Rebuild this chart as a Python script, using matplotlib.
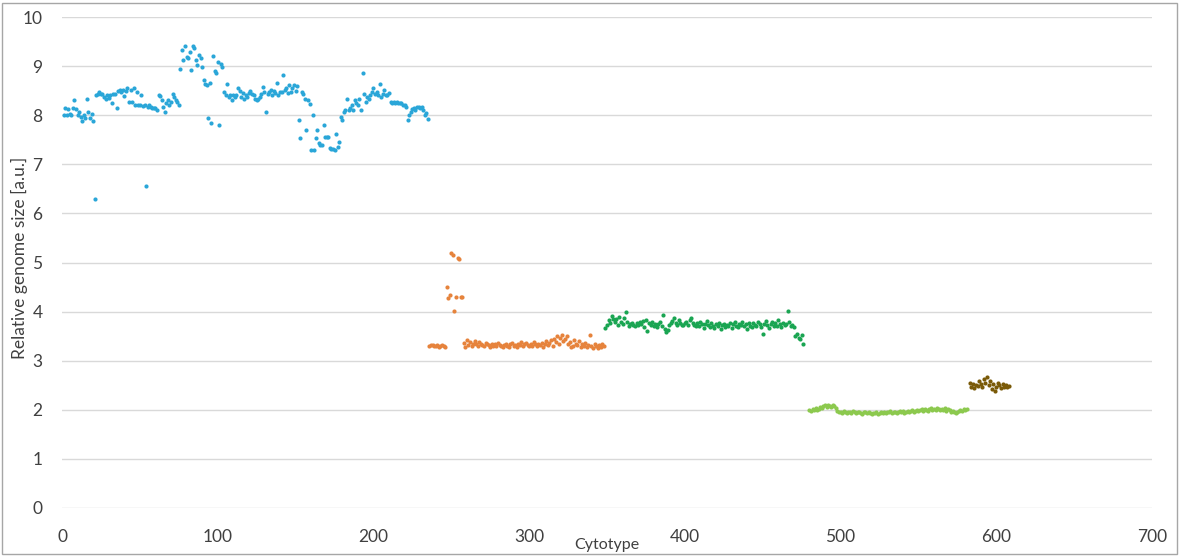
import numpy as np
import matplotlib
matplotlib.use("Agg")
import matplotlib.pyplot as plt
from matplotlib.patches import Rectangle

# relative genome size per cytotype, one list per group (cytotype number = start + position)
blue_start = 1
blue_vals = [
    8.00, 8.14, 8.00, 8.13, 8.02, 8.00, 8.15, 8.30, 8.13, 8.00,
    8.06, 7.97, 7.88, 8.00, 7.95, 8.32, 8.06, 7.94, 8.02, 7.88,
    6.30, 8.41, 8.44, 8.48, 8.43, 8.44, 8.37, 8.34, 8.41, 8.35,
    8.41, 8.24, 8.43, 8.44, 8.14, 8.49, 8.51, 8.48, 8.51, 8.39,
    8.49, 8.56, 8.27, 8.51, 8.26, 8.55, 8.20, 8.48, 8.21, 8.20,
    8.41, 8.19, 8.20, 6.55, 8.17, 8.20, 8.17, 8.14, 8.14, 8.15,
    8.10, 8.41, 8.39, 8.31, 8.17, 8.07, 8.24, 8.31, 8.20, 8.27,
    8.43, 8.37, 8.31, 8.27, 8.20, 8.95, 9.33, 9.12, 9.41, 9.19,
    9.16, 9.29, 8.92, 9.41, 9.36, 9.12, 9.02, 9.22, 9.17, 8.99,
    8.72, 8.63, 8.61, 7.94, 8.65, 7.84, 9.21, 8.90, 8.85, 9.08,
    7.80, 9.04, 8.99, 8.47, 8.41, 8.63, 8.37, 8.41, 8.31, 8.41,
    8.37, 8.42, 8.55, 8.49, 8.37, 8.45, 8.34, 8.41, 8.37, 8.45,
    8.49, 8.44, 8.41, 8.34, 8.31, 8.32, 8.37, 8.44, 8.58, 8.48,
    8.07, 8.43, 8.48, 8.51, 8.41, 8.49, 8.46, 8.65, 8.41, 8.48,
    8.48, 8.82, 8.51, 8.55, 8.45, 8.61, 8.48, 8.56, 8.61, 8.50,
    8.60, 7.90, 7.53, 8.48, 8.43, 8.34, 7.70, 8.30, 8.23, 7.29,
    8.00, 7.30, 7.53, 7.70, 7.43, 7.40, 7.40, 7.80, 7.56, 7.55,
    7.56, 7.34, 7.32, 7.32, 7.29, 7.61, 7.36, 7.46, 7.96, 7.90,
    8.07, 8.10, 8.34, 8.10, 8.14, 8.21, 8.10, 8.30, 8.24, 8.21,
    8.34, 8.10, 8.86, 8.44, 8.27, 8.37, 8.34, 8.41, 8.48, 8.55,
    8.43, 8.47, 8.41, 8.64, 8.37, 8.44, 8.51, 8.41, 8.41, 8.45,
    8.27, 8.24, 8.27, 8.25, 8.27, 8.24, 8.25, 8.25, 8.21, 8.21,
    8.17, 7.90, 8.00, 8.07, 8.12, 8.14, 8.10, 8.17, 8.17, 8.15,
    8.17, 8.10, 8.00, 8.05, 7.93,
]

orange_start = 236
orange_vals = [
    3.30, 3.32, 3.31, 3.29, 3.30, 3.31, 3.28, 3.29, 3.31, 3.29, 3.28,
    4.51, 4.27, 4.33, 5.19, 5.16, 4.01, 4.30, 5.10, 5.08, 4.30, 4.29,
    3.36, 3.28, 3.42, 3.32, 3.38, 3.30, 3.35, 3.40, 3.33, 3.30,
    3.38, 3.35, 3.32, 3.29, 3.36, 3.33, 3.31, 3.28, 3.34, 3.30,
    3.33, 3.29, 3.37, 3.32, 3.30, 3.28, 3.31, 3.35, 3.30, 3.27,
    3.33, 3.36, 3.30, 3.32, 3.28, 3.35, 3.31, 3.38, 3.29, 3.33,
    3.36, 3.31, 3.30, 3.34, 3.29, 3.38, 3.33, 3.30, 3.35, 3.31,
    3.37, 3.28, 3.33, 3.40, 3.32, 3.36, 3.42, 3.30, 3.45, 3.38,
    3.50, 3.35, 3.47, 3.52, 3.40, 3.45, 3.50, 3.33, 3.38, 3.28,
    3.30, 3.42, 3.35, 3.32, 3.40, 3.27, 3.34, 3.30, 3.36, 3.28,
    3.32, 3.52, 3.30, 3.26, 3.33, 3.29, 3.25, 3.31, 3.28, 3.34, 3.30,
]

green_start = 349
green_vals = [
    3.66, 3.73, 3.83, 3.76, 3.91, 3.84, 3.79, 3.85, 3.72, 3.88,
    3.79, 3.74, 3.86, 4.00, 3.78, 3.71, 3.74, 3.76, 3.73, 3.70,
    3.77, 3.72, 3.79, 3.74, 3.80, 3.68, 3.83, 3.61, 3.76, 3.72,
    3.79, 3.70, 3.75, 3.68, 3.74, 3.79, 3.70, 3.93, 3.65, 3.59,
    3.62, 3.72, 3.76, 3.80, 3.86, 3.76, 3.73, 3.82, 3.76, 3.72,
    3.73, 3.76, 3.79, 3.73, 3.82, 3.86, 3.77, 3.73, 3.70, 3.76,
    3.70, 3.78, 3.74, 3.67, 3.75, 3.80, 3.72, 3.69, 3.76, 3.71,
    3.67, 3.74, 3.70, 3.77, 3.64, 3.72, 3.75, 3.68, 3.73, 3.70,
    3.76, 3.66, 3.74, 3.78, 3.71, 3.68, 3.75, 3.72, 3.79, 3.70,
    3.74, 3.64, 3.77, 3.71, 3.68, 3.76, 3.73, 3.70, 3.78, 3.74,
    3.69, 3.55, 3.75, 3.80, 3.72, 3.67, 3.74, 3.78, 3.71, 3.76,
    3.70, 3.82, 3.74, 3.68, 3.77, 3.72, 3.75, 4.02, 3.78, 3.70,
    3.73, 3.68, 3.50, 3.54, 3.47, 3.45, 3.52, 3.35,
]

lime_start = 480
lime_vals = [
    2.00, 1.98, 2.01, 2.00, 2.03, 1.99, 2.02, 2.05, 2.03, 2.07,
    2.09, 2.06, 2.10, 2.08, 2.05, 2.09, 2.07, 2.03, 1.98, 1.95,
    1.96, 1.94, 1.97, 1.95, 1.93, 1.96, 1.95, 1.94, 1.97, 1.95,
    1.93, 1.95, 1.96, 1.94, 1.92, 1.95, 1.96, 1.93, 1.95, 1.94,
    1.92, 1.94, 1.93, 1.95, 1.92, 1.94, 1.96, 1.93, 1.95, 1.94,
    1.96, 1.95, 1.97, 1.94, 1.96, 1.95, 1.93, 1.96, 1.98, 1.95,
    1.97, 1.94, 1.96, 1.98, 1.95, 1.97, 1.99, 1.96, 1.98, 2.00,
    1.97, 1.99, 2.01, 1.98, 2.02, 2.00, 1.98, 2.01, 2.03, 1.99,
    2.02, 2.00, 2.04, 2.01, 1.99, 2.02, 2.00, 2.03, 1.98, 2.01,
    1.99, 1.96, 1.98, 1.95, 1.93, 1.96, 1.97, 2.00, 1.98, 2.02,
    2.00, 2.01,
]

brown_start = 583
brown_vals = [
    2.55, 2.47, 2.52, 2.44, 2.50, 2.48, 2.58, 2.53, 2.46, 2.62,
    2.55, 2.66, 2.50, 2.58, 2.43, 2.52, 2.38, 2.47, 2.55, 2.50,
    2.44, 2.52, 2.47, 2.50, 2.46, 2.49,
]

groups = [
    (blue_start, blue_vals, "#2aa6d8"),
    (orange_start, orange_vals, "#e6833c"),
    (green_start, green_vals, "#1aa552"),
    (lime_start, lime_vals, "#8cc94e"),
    (brown_start, brown_vals, "#7a5a08"),
]

plt.rcParams["font.family"] = ["Lato", "DejaVu Sans"]

fig = plt.figure(figsize=(11.79, 5.56), dpi=100)
ax = fig.add_axes([62 / 1179, 1 - 508 / 556, (1152 - 62) / 1179, (508 - 17) / 556])

for start, vals, col in groups:
    xs = np.arange(start, start + len(vals))
    ax.scatter(xs, vals, s=9, color=col, linewidths=0, zorder=3)

ax.set_xlim(0, 700)
ax.set_ylim(0, 10)
ax.set_xticks(range(0, 701, 100))
ax.set_yticks(range(0, 11))
ax.grid(axis="y", color="#d9d9d9", linewidth=1)
ax.set_axisbelow(True)
for sp in ax.spines.values():
    sp.set_visible(False)
ax.tick_params(length=0, labelsize=12.5, colors="#404040")
ax.tick_params(axis="x", pad=15)
ax.tick_params(axis="y", pad=14)

ax.set_xlabel("Cytotype", fontsize=11.5, color="#404040")
ax.xaxis.set_label_coords(0.5, -0.062)
ax.set_ylabel("Relative genome size [a.u.]", fontsize=12.5, color="#404040")
ax.yaxis.set_label_coords(-0.031, 0.51)

# chart frame
fig.patches.append(Rectangle((2 / 1179, 2 / 556), 1175 / 1179, 551 / 556,
                             transform=fig.transFigure, fill=False,
                             edgecolor="#a6a6a6", linewidth=1))

fig.savefig("out.png", dpi=100)
